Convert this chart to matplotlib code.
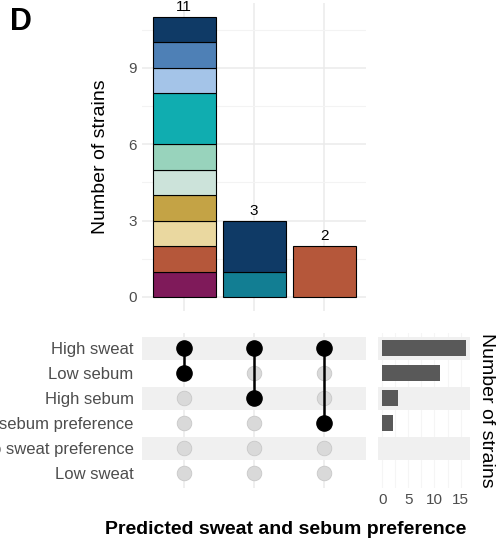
import matplotlib
matplotlib.use("Agg")
import matplotlib.pyplot as plt
import numpy as np

plt.rcParams["font.family"] = ["Liberation Sans", "DejaVu Sans"]

# ---- data -------------------------------------------------------------------------------------
sets = ["High sweat", "Low sebum", "High sebum", "No sebum preference",
        "No sweat preference", "Low sweat"]
set_sizes = [16, 11, 3, 2, 0, 0]

# intersections (columns), as lists of member sets
intersections = [["High sweat", "Low sebum"],
                 ["High sweat", "High sebum"],
                 ["High sweat", "No sebum preference"]]
# stacked composition of each intersection bar (bottom -> top)
stack_counts = [[1, 1, 1, 1, 1, 1, 2, 1, 1, 1],
                [1, 2],
                [2]]
stack_colors = [["#7F1A5A", "#B5573A", "#EAD8A0", "#C4A345", "#CCE3DA",
                 "#98D3BC", "#10ADB0", "#A4C4E8", "#4E80B6", "#0F3A66"],
                ["#127E93", "#0F3A66"],
                ["#B5573A"]]

GRID = "#EBEBEB"
STRIPE = "#F0F0F0"
TXT = "#4D4D4D"

fig = plt.figure(figsize=(4.98, 5.46), dpi=100)
W, H = 498, 546


def box(x0, y0, x1, y1):
    return [x0 / W, 1 - y1 / H, (x1 - x0) / W, (y1 - y0) / H]


# ---- top: intersection bars -------------------------------------------------------------------
ax = fig.add_axes(box(142, 3, 366, 311))
xs = np.arange(1, len(intersections) + 1)
for x, counts, cols in zip(xs, stack_counts, stack_colors):
    bottom = 0
    for c, col in zip(counts, cols):
        ax.bar(x, c, bottom=bottom, width=0.9, color=col, edgecolor="black", lw=0.8, zorder=3)
        bottom += c
    ax.text(x, bottom + 0.12, str(bottom), ha="center", va="bottom", fontsize=11, zorder=4)
ax.set_xlim(0.4, len(intersections) + 0.6)
ax.set_ylim(-0.55, 11.55)
ax.set_yticks([0, 3, 6, 9])
ax.set_yticks([1.5, 4.5, 7.5, 10.5], minor=True)
ax.set_xticks(xs)
ax.set_xticklabels([])
ax.grid(True, which="major", color=GRID, lw=1.1, zorder=0)
ax.grid(True, which="minor", axis="y", color="#F3F3F3", lw=0.8, zorder=0)
ax.tick_params(length=0, labelsize=11, labelcolor=TXT, which="both")
for s in ax.spines.values():
    s.set_visible(False)
ax.set_ylabel("Number of strains", fontsize=14, labelpad=14)

# ---- bottom-left: matrix ----------------------------------------------------------------------
am = fig.add_axes(box(142, 333, 366, 488))
ys = np.arange(len(sets))
for x in xs:
    am.axvline(x, color=GRID, lw=1.1, zorder=0)
for y in ys[::2]:
    am.axhspan(y - 0.46, y + 0.46, color=STRIPE, lw=0, zorder=1)
for x, inter in zip(xs, intersections):
    act = [sets.index(s) for s in inter]
    inact = [y for y in ys if y not in act]
    am.scatter([x] * len(inact), inact, s=110, color="#D9D9D9", edgecolor="#C8C8C8",
               lw=0.6, zorder=2)
    am.plot([x, x], [min(act), max(act)], color="black", lw=1.8, zorder=3)
    am.scatter([x] * len(act), act, s=120, color="black", zorder=4)
am.set_xlim(0.4, len(intersections) + 0.6)
am.set_ylim(len(sets) - 0.4, -0.6)
am.set_yticks(ys)
am.set_yticklabels(sets)
am.set_xticks([])
am.tick_params(length=0, labelsize=12, labelcolor=TXT, pad=6)
for s in am.spines.values():
    s.set_visible(False)

fig.text(286 / W, 1 - 530 / H, "Predicted sweat and sebum preference",
         ha="center", va="center", fontsize=14, fontweight="bold")

# ---- bottom-right: set sizes ------------------------------------------------------------------
ar = fig.add_axes(box(378, 333, 470, 488))
for y in ys[::2]:
    ar.axhspan(y - 0.46, y + 0.46, color=STRIPE, lw=0, zorder=1)
for v in [0, 2.5, 5, 7.5, 10, 12.5, 15]:
    ar.axvline(v, color="#F5F5F5", lw=0.8, zorder=0)
ar.barh(ys, set_sizes, height=0.62, color="#595959", zorder=3)
ar.set_xlim(-0.8, 16.8)
ar.set_ylim(len(sets) - 0.4, -0.6)
ar.set_xticks([0, 5, 10, 15])
ar.set_yticks([])
ar.tick_params(length=0, labelsize=11, labelcolor=TXT)
for s in ar.spines.values():
    s.set_visible(False)
ar.yaxis.set_label_position("right")
ar.set_ylabel("Number of strains", fontsize=14, rotation=270, labelpad=18)

fig.text(10 / W, 1 - 22 / H, "D", fontsize=22, fontweight="bold", va="center", ha="left")
fig.savefig("out.png", dpi=100)
